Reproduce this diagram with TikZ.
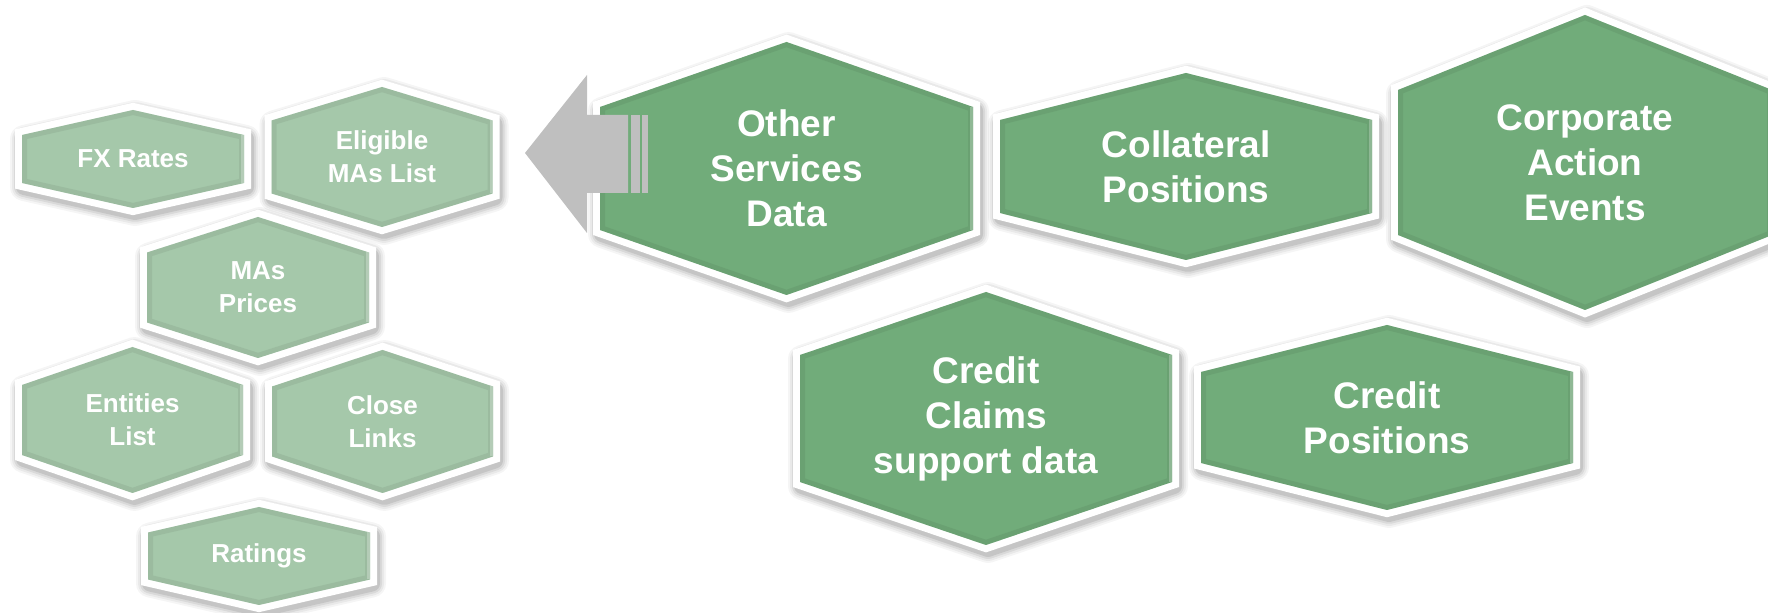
\documentclass[tikz,border=0pt]{standalone}
\usepackage{fontspec}
\setmainfont{Liberation Sans}
\definecolor{gdark}{RGB}{113,172,122}
\definecolor{glight}{RGB}{165,200,170}
\definecolor{arrowgrey}{RGB}{191,191,191}
\tikzset{
  hexlabel/.style={align=center, text=white, inner sep=0pt},
  smalltxt/.style={font=\fontsize{13}{16.5}\selectfont\bfseries},
  bigtxt/.style={font=\fontsize{18.5}{22.5}\selectfont\bfseries},
  hexshadow/.style={black, line join=round, shift={(2,4)}},
  hexborder/.style={draw=white, fill=white, line width=7pt, line join=miter},
  bigarrow/.style={fill=arrowgrey, draw=none}
}
% #1 name, #2 cx, #3 cy, #4 half width, #5 half height (apex), #6 half side, #7 fill colour, #8 text style, #9 text
\newcommand\HexCell[9]{%
  \foreach \lw/\op in {14pt/0.04, 12pt/0.05, 10pt/0.07, 8pt/0.09}{%
    \draw[hexshadow, line width=\lw, opacity=\op]
      (#2-#4,#3-#6) -- (#2,#3-#5) -- (#2+#4,#3-#6) -- (#2+#4,#3+#6) -- (#2,#3+#5) -- (#2-#4,#3+#6) -- cycle;
  }
  \draw[hexborder]
    (#2-#4,#3-#6) -- (#2,#3-#5) -- (#2+#4,#3-#6) -- (#2+#4,#3+#6) -- (#2,#3+#5) -- (#2-#4,#3+#6) -- cycle;
  \fill[#7]
    (#2-#4,#3-#6) -- (#2,#3-#5) -- (#2+#4,#3-#6) -- (#2+#4,#3+#6) -- (#2,#3+#5) -- (#2-#4,#3+#6) -- cycle;
  \begin{scope}
    \clip (#2-#4,#3-#6) -- (#2,#3-#5) -- (#2+#4,#3-#6) -- (#2+#4,#3+#6) -- (#2,#3+#5) -- (#2-#4,#3+#6) -- cycle;
    \draw[#7!80!black, line width=5pt, opacity=0.3]
      (#2-#4,#3-#6) -- (#2,#3-#5) -- (#2+#4,#3-#6) -- (#2+#4,#3+#6) -- (#2,#3+#5) -- (#2-#4,#3+#6) -- cycle;
    \draw[white, line width=3pt, opacity=0.25]
      (#2+#4,#3-#6) -- (#2+#4,#3+#6);
  \end{scope}
  \node[hexlabel, #8] (#1) at (#2,#3) {#9};
}
\begin{document}
\begin{tikzpicture}[x=0.5pt, y=-0.5pt]
  \useasboundingbox (0,0) rectangle (1768,613);
  \clip (0,0) rectangle (1768,613);
  % left cluster
  \HexCell{fx}{133}{159}{111}{49}{24}{glight}{smalltxt}{FX Rates}
  \HexCell{elig}{382}{157}{110.5}{70}{36.5}{glight}{smalltxt}{Eligible\\MAs List}
  \HexCell{prices}{258}{287.5}{111}{70.5}{35}{glight}{smalltxt}{MAs\\Prices}
  \HexCell{entities}{132.5}{420}{110.5}{73}{35}{glight}{smalltxt}{Entities\\List}
  \HexCell{close}{382.5}{421.5}{110.5}{71.5}{35}{glight}{smalltxt}{Close\\Links}
  \HexCell{ratings}{259}{556}{111}{49}{23.5}{glight}{smalltxt}{Ratings}
  % right cluster
  \HexCell{corp}{1585}{162.5}{187}{147.5}{72.5}{gdark}{bigtxt}{Corporate\\Action\\Events}
  \HexCell{coll}{1186}{166.5}{186}{93.5}{46.5}{gdark}{bigtxt}{Collateral\\Positions}
  \HexCell{other}{786.5}{168.5}{186.5}{126.5}{61.5}{gdark}{bigtxt}{Other\\Services\\Data}
  \HexCell{claims}{986}{418.5}{186}{126.5}{63.5}{gdark}{bigtxt}{Credit\\Claims\\support data}
  \HexCell{creditpos}{1387}{417.5}{186}{92.5}{45.5}{gdark}{bigtxt}{Credit\\Positions}
  % big grey arrow from Other Services Data toward the left cluster
  \coordinate (tip) at (525,153);
  \fill[bigarrow] (tip) -- (587,75) -- (587,115) -- (628,115) -- (628,193) -- (587,193) -- (587,233) -- cycle;
  \fill[bigarrow] (631,115) rectangle (640,193);
  \fill[bigarrow] (642,115) rectangle (648,193);
\end{tikzpicture}
\end{document}
